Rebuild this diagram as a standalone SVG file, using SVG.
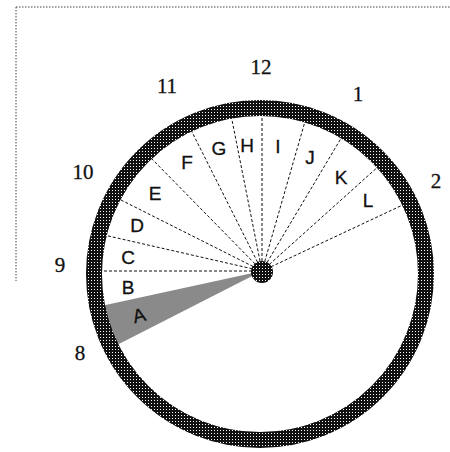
<svg xmlns="http://www.w3.org/2000/svg" width="450" height="452" viewBox="0 0 450 452">
<defs>
<pattern id="ht" width="3" height="3" patternUnits="userSpaceOnUse">
<rect width="3" height="3" fill="#111" shape-rendering="crispEdges"/>
<rect x="1" y="1" width="1" height="1" fill="#fff" shape-rendering="crispEdges"/>
</pattern>
<style>
.frame{fill:none;stroke:#444;stroke-width:1;stroke-dasharray:1.5 1.5}
.spoke{stroke:#111;stroke-width:1;stroke-dasharray:3 2;fill:none}
.num{font-family:"Liberation Serif",serif;font-size:21px;fill:#111;stroke:#111;stroke-width:0.3;text-anchor:middle}
.let{font-family:"Liberation Sans",sans-serif;font-size:19px;fill:#111;stroke:#111;stroke-width:0.3;text-anchor:middle}
</style>
</defs>
<rect width="450" height="452" fill="#fff"/>
<path class="frame" d="M16 7H450M16 7V281"/>
<g id="wedge-A"><polygon points="262,271 101,306 113,347" fill="#8a8a8a"/></g>
<g id="connectors">
<line class="spoke" x1="262" y1="271" x2="96" y2="271"/>
<line class="spoke" x1="262" y1="271" x2="104" y2="235"/>
<line class="spoke" x1="262" y1="271" x2="117" y2="198"/>
<line class="spoke" x1="262" y1="271" x2="151" y2="158"/>
<line class="spoke" x1="262" y1="271" x2="189" y2="126"/>
<line class="spoke" x1="262" y1="271" x2="231" y2="115"/>
<line class="spoke" x1="262" y1="271" x2="262" y2="112"/>
<line class="spoke" x1="262" y1="271" x2="306" y2="118"/>
<line class="spoke" x1="262" y1="271" x2="343" y2="135"/>
<line class="spoke" x1="262" y1="271" x2="380" y2="165"/>
<line class="spoke" x1="262" y1="271" x2="407" y2="203"/>
</g>
<g id="ring"><circle cx="260" cy="274" r="166" fill="none" stroke="url(#ht)" stroke-width="16"/></g>
<g id="hub"><circle cx="262" cy="272" r="11" fill="url(#ht)"/></g>
<g id="hours">
<text class="num" x="261" y="74">12</text>
<text class="num" x="167" y="93">11</text>
<text class="num" x="358" y="101">1</text>
<text class="num" x="83" y="179">10</text>
<text class="num" x="436" y="188">2</text>
<text class="num" x="60" y="272">9</text>
<text class="num" x="80" y="360">8</text>
</g>
<g id="sectors">
<text class="let" x="139" y="322" transform="rotate(-14 139 315)">A</text>
<text class="let" x="128" y="294">B</text>
<text class="let" x="128" y="264">C</text>
<text class="let" x="137" y="232">D</text>
<text class="let" x="155" y="200">E</text>
<text class="let" x="187" y="169">F</text>
<text class="let" x="219" y="155">G</text>
<text class="let" x="247" y="152">H</text>
<text class="let" x="278" y="153">I</text>
<text class="let" x="310" y="164">J</text>
<text class="let" x="341" y="184">K</text>
<text class="let" x="368" y="207">L</text>
</g>
</svg>
